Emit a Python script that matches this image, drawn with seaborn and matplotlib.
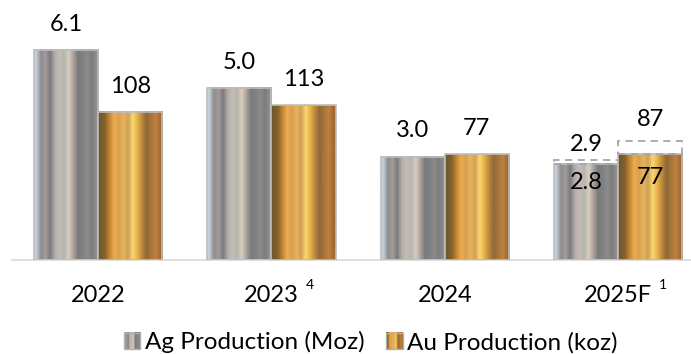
import numpy as np
import matplotlib
matplotlib.use("Agg")
import matplotlib.pyplot as plt
from matplotlib.patches import Rectangle
from matplotlib.legend_handler import HandlerBase
from matplotlib.image import BboxImage
from matplotlib.transforms import Bbox, TransformedBbox
import seaborn as sns

# data
years = ["2022", "2023", "2024", "2025F"]
year_notes = ["", "4", "", "1"]
ag_moz = [6.1, 5.0, 3.0, 2.8]
au_koz = [108, 113, 77, 77]
ag_text = ["6.1", "5.0", "3.0", "2.8"]
au_text = ["108", "113", "77", "77"]
# 2025F guidance upper end (dashed boxes)
ag_top = [None, None, None, 2.9]
au_top = [None, None, None, 87]
series = ["Ag Production (Moz)", "Au Production (koz)"]

# metallic stripe textures
silver = ["#c4d0da", "#8e8c8e", "#a29c9a", "#7c7b7d", "#b2aeaa", "#c6bcb6", "#b6b6b0",
          "#dacdc0", "#aaa29c", "#7a7a7a", "#7e8284", "#8e8a88", "#7c7c80", "#948e8c"]
gold = ["#6f5a30", "#8a6028", "#c08838", "#eeac4c", "#d8a050", "#e6b45e", "#d0a058",
        "#f8d870", "#e8b048", "#b88840", "#906838", "#a87838", "#c08040", "#a06a30"]

def hex_row(cols):
    return np.array([matplotlib.colors.to_rgb(c) for c in cols])[None, :, :]

sns.set_theme(style="white")
plt.rcParams["font.family"] = ["Lato", "DejaVu Sans"]
plt.rcParams["text.color"] = "black"
plt.rcParams["xtick.color"] = "black"

W, H = 691, 354
fig = plt.figure(figsize=(W / 100, H / 100), dpi=100)
ax1 = fig.add_axes([12 / W, 94 / H, 1 - 12 / W, 260 / H])
ax2 = ax1.twinx()

pos = np.arange(len(years))
w = 0.37
sns.barplot(x=pos - w / 2, y=ag_moz, native_scale=True, orient="x", width=w,
            errorbar=None, ax=ax1, color="#999999", edgecolor="#bdbdbd", linewidth=1.2)
sns.barplot(x=pos + w / 2, y=au_koz, native_scale=True, orient="x", width=w,
            errorbar=None, ax=ax2, color="#c89040", edgecolor="#bdbdbd", linewidth=1.2)

for ax, cols in [(ax1, silver), (ax2, gold)]:
    tex = hex_row(cols)
    for p in list(ax.patches):
        x0, y0 = p.get_x(), p.get_y()
        x1, y1 = x0 + p.get_width(), y0 + p.get_height()
        p.set_facecolor("none")
        p.set_zorder(3)
        ax.imshow(tex, extent=[x0, x1, y0, y1], aspect="auto", interpolation="bilinear",
                  clip_path=p, zorder=2.5)

ax1.set_xlim(-0.496, 3.42)
ax1.set_ylim(0, 7.55)
ax2.set_ylim(0, 189.7)

# dashed forecast boxes
for i in range(len(years)):
    if ag_top[i] is not None:
        ax1.add_patch(Rectangle((pos[i] - w, ag_moz[i]), w, ag_top[i] - ag_moz[i], fill=False,
                                ls=(0, (4, 3)), ec="#a6a6a6", lw=1.3, zorder=4))
    if au_top[i] is not None:
        ax2.add_patch(Rectangle((pos[i], au_koz[i]), w, au_top[i] - au_koz[i], fill=False,
                                ls=(0, (4, 3)), ec="#a6a6a6", lw=1.3, zorder=4))

fs = 17
for i in range(len(years)):
    xa, xb = pos[i] - w / 2, pos[i] + w / 2
    if ag_top[i] is None:
        ax1.annotate(ag_text[i], (xa, ag_moz[i]), xytext=(0, 11), textcoords="offset points",
                     ha="center", va="bottom", fontsize=fs)
    else:
        ax1.annotate(f"{ag_top[i]}", (xa, ag_top[i]), xytext=(0, 4), textcoords="offset points",
                     ha="center", va="bottom", fontsize=fs)
        ax1.annotate(ag_text[i], (xa, ag_moz[i]), xytext=(0, -6), textcoords="offset points",
                     ha="center", va="top", fontsize=fs, zorder=5)
    if au_top[i] is None:
        ax2.annotate(au_text[i], (xb, au_koz[i]), xytext=(0, 11), textcoords="offset points",
                     ha="center", va="bottom", fontsize=fs)
    else:
        ax2.annotate(f"{au_top[i]}", (xb, au_top[i]), xytext=(0, 8), textcoords="offset points",
                     ha="center", va="bottom", fontsize=fs)
        ax2.annotate(au_text[i], (xb, au_koz[i]), xytext=(0, -9), textcoords="offset points",
                     ha="center", va="top", fontsize=fs, zorder=5)

ax1.set_xticks(pos, years)
ax1.tick_params(axis="x", length=0, pad=18, labelsize=fs, labelcolor="black")
ax1.set_yticks([])
ax2.set_yticks([])
for ax in (ax1, ax2):
    for s in ["top", "left", "right", "bottom"]:
        ax.spines[s].set_visible(False)
ax1.spines["bottom"].set_visible(True)
ax1.spines["bottom"].set_color("#d9d9d9")
ax1.spines["bottom"].set_linewidth(1.2)
ax1.set_xlabel("")


class StripeHandler(HandlerBase):
    def __init__(self, cols):
        super().__init__()
        self.tex = hex_row(cols)

    def create_artists(self, legend, orig_handle, xdescent, ydescent, width, height, fontsize, trans):
        s = height
        x0 = -xdescent + (width - s) / 2
        y0 = -ydescent
        bb = TransformedBbox(Bbox.from_bounds(x0, y0, s, s), trans)
        img = BboxImage(bb, interpolation="bilinear")
        img.set_data(self.tex)
        rect = Rectangle((x0, y0), s, s, fill=False, ec="#b0b0b0", lw=1, transform=trans)
        return [img, rect]


h_ag = Rectangle((0, 0), 1, 1)
h_au = Rectangle((0, 0), 1, 1)
fig.legend([h_ag, h_au], series, loc="lower center", bbox_to_anchor=(371 / W, -0.06),
           ncol=2, frameon=False, fontsize=17.5, handlelength=0.65, handleheight=0.65,
           handletextpad=0.2, columnspacing=0.9,
           handler_map={h_ag: StripeHandler(silver), h_au: StripeHandler(gold)})

# superscript footnote markers next to year labels
fig.canvas.draw()
for lab, note in zip(ax1.get_xticklabels(), year_notes):
    if note:
        bb = lab.get_window_extent()
        fig.text((bb.x1 + 7) / W, bb.y1 / H, note, fontsize=10, ha="left", va="center")

fig.savefig("out.png", dpi=100)
